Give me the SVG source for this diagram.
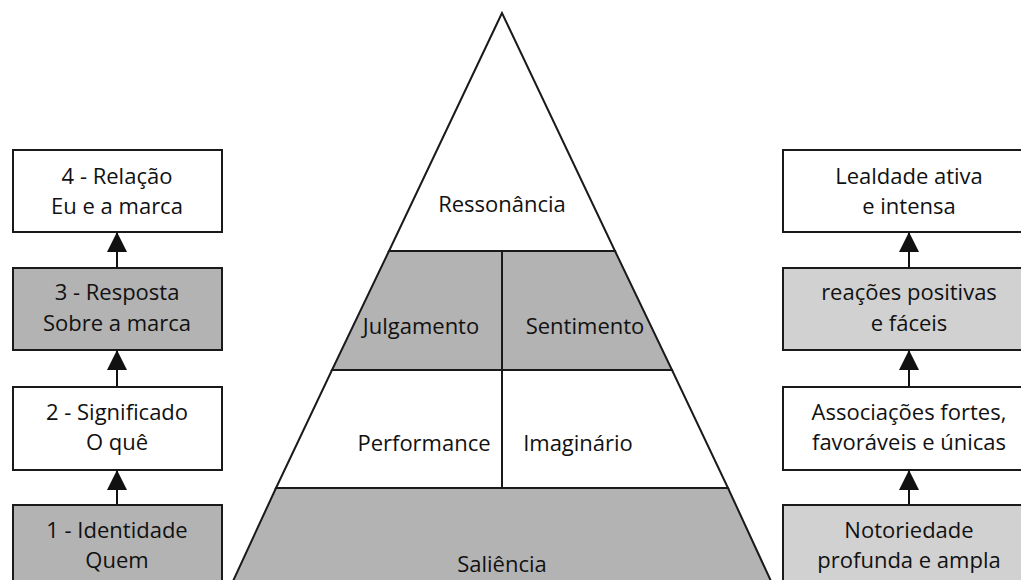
<svg xmlns="http://www.w3.org/2000/svg" width="1021" height="580" viewBox="0 0 1021 580">
<defs>
<style>
.box{stroke:#1a1a1a;stroke-width:2}
.w{fill:#fff}
.g{fill:#b3b3b3}
.lg{fill:#d1d1d1}
.seg{stroke:#1a1a1a;stroke-width:2;stroke-linejoin:miter}
text{font-family:"Open Sans","Noto Sans",sans-serif;font-size:22px;fill:#111;text-anchor:middle}
.con{stroke:#111;stroke-width:2;fill:none}
</style>
<marker id="ah" markerWidth="20" markerHeight="20" refX="19" refY="10" orient="auto" markerUnits="userSpaceOnUse">
<path d="M0,0 L20,10 L0,20 Z" fill="#111"/>
</marker>
</defs>
<rect width="1021" height="580" fill="#fff"/>
<g id="pyramid">
<g id="ressonancia"><polygon class="seg w" points="502,13 389,251 615,251"/><text x="502" y="212">Ressonância</text></g>
<g id="julgamento"><polygon class="seg g" points="389,251 502,251 502,370 332,370"/><text x="421" y="334">Julgamento</text></g>
<g id="sentimento"><polygon class="seg g" points="502,251 615,251 672,370 502,370"/><text x="585" y="334">Sentimento</text></g>
<g id="performance"><polygon class="seg w" points="332,370 502,370 502,488 276,488"/><text x="424" y="451">Performance</text></g>
<g id="imaginario"><polygon class="seg w" points="502,370 672,370 728,488 502,488"/><text x="578" y="451">Imaginário</text></g>
<g id="saliencia"><polygon class="seg g" points="276,488 728,488 776,592 228,592"/><text x="502" y="572">Saliência</text></g>
</g>
<g id="l4"><rect class="box w" x="13" y="150" width="209" height="82"/><text x="117" y="184">4 - Relação</text><text x="117" y="214">Eu e a marca</text></g>
<g id="l3"><rect class="box g" x="13" y="268" width="209" height="82"/><text x="117" y="300">3 - Resposta</text><text x="117" y="331">Sobre a marca</text></g>
<g id="l2"><rect class="box w" x="13" y="387" width="209" height="83"/><text x="117" y="420">2 - Significado</text><text x="117" y="450">O quê</text></g>
<g id="l1"><rect class="box g" x="13" y="505" width="209" height="90"/><text x="117" y="538">1 - Identidade</text><text x="117" y="568">Quem</text></g>
<g id="r4"><rect class="box w" x="783" y="150" width="260" height="82"/><text x="909" y="184">Lealdade ativa</text><text x="909" y="214">e intensa</text></g>
<g id="r3"><rect class="box lg" x="783" y="268" width="260" height="82"/><text x="909" y="300">reações positivas</text><text x="909" y="331">e fáceis</text></g>
<g id="r2"><rect class="box w" x="783" y="387" width="260" height="83"/><text x="909" y="420">Associações fortes,</text><text x="909" y="450">favoráveis e únicas</text></g>
<g id="r1"><rect class="box lg" x="783" y="505" width="260" height="90"/><text x="909" y="538">Notoriedade</text><text x="909" y="568">profunda e ampla</text></g>
<g id="connectors">
<line class="con" x1="117" y1="267" x2="117" y2="233" marker-end="url(#ah)"/>
<line class="con" x1="117" y1="386" x2="117" y2="351" marker-end="url(#ah)"/>
<line class="con" x1="117" y1="504" x2="117" y2="471" marker-end="url(#ah)"/>
<line class="con" x1="909" y1="267" x2="909" y2="233" marker-end="url(#ah)"/>
<line class="con" x1="909" y1="386" x2="909" y2="351" marker-end="url(#ah)"/>
<line class="con" x1="909" y1="504" x2="909" y2="471" marker-end="url(#ah)"/>
</g>
</svg>
